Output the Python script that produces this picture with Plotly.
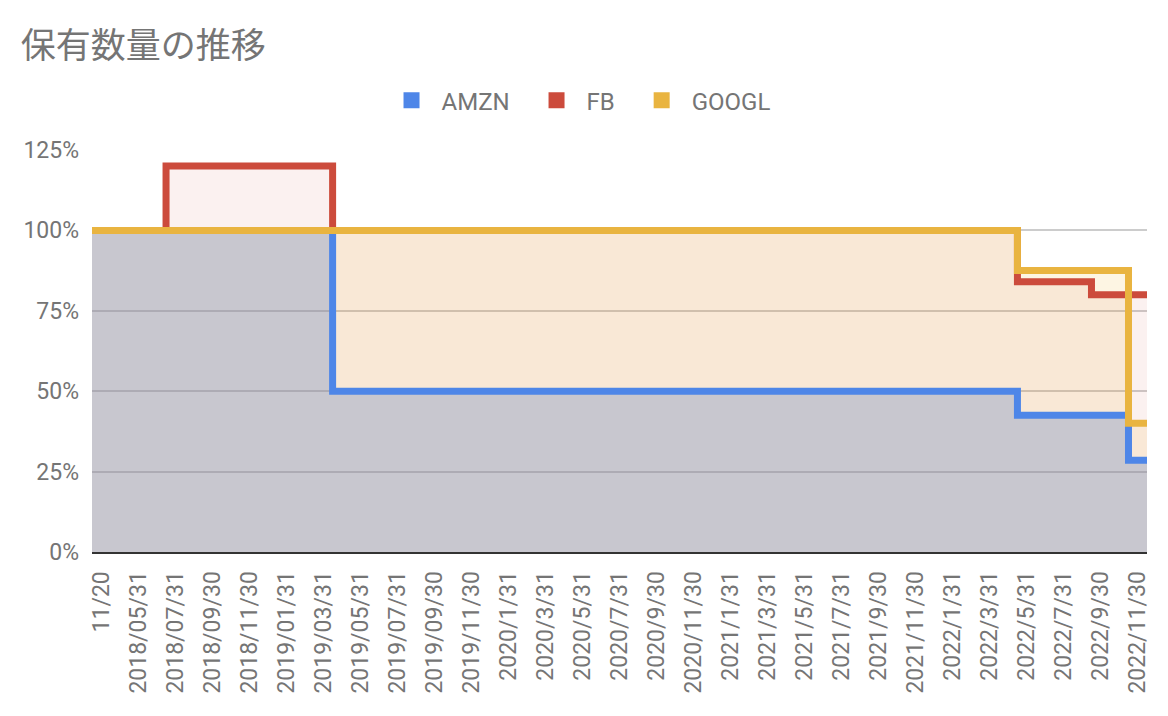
import numpy as np
import plotly.graph_objects as go

# month-end snapshots (first one is the purchase date)
categories = [
    "11/20", "2018/04/30", "2018/05/31", "2018/06/30", "2018/07/31", "2018/08/31",
    "2018/09/30", "2018/10/31", "2018/11/30", "2018/12/31", "2019/01/31", "2019/02/28",
    "2019/03/31", "2019/04/30", "2019/05/31", "2019/06/30", "2019/07/31", "2019/08/31",
    "2019/09/30", "2019/10/31", "2019/11/30", "2019/12/31", "2020/1/31", "2020/2/29",
    "2020/3/31", "2020/4/30", "2020/5/31", "2020/6/30", "2020/7/31", "2020/8/31",
    "2020/9/30", "2020/10/31", "2020/11/30", "2020/12/31", "2021/1/31", "2021/2/28",
    "2021/3/31", "2021/4/30", "2021/5/31", "2021/6/30", "2021/7/31", "2021/8/31",
    "2021/9/30", "2021/10/31", "2021/11/30", "2021/12/31", "2022/1/31", "2022/2/28",
    "2022/3/31", "2022/4/30", "2022/5/31", "2022/6/30", "2022/7/31", "2022/8/31",
    "2022/9/30", "2022/10/31", "2022/11/30",
]

amzn = [
    1.0, 1.0, 1.0, 1.0, 1.0, 1.0, 1.0, 1.0, 1.0, 1.0, 1.0, 1.0, 1.0,
    0.5, 0.5, 0.5, 0.5, 0.5, 0.5, 0.5, 0.5, 0.5, 0.5, 0.5, 0.5, 0.5,
    0.5, 0.5, 0.5, 0.5, 0.5, 0.5, 0.5, 0.5, 0.5, 0.5, 0.5, 0.5, 0.5,
    0.5, 0.5, 0.5, 0.5, 0.5, 0.5, 0.5, 0.5, 0.5, 0.5, 0.5,
    0.425, 0.425, 0.425, 0.425, 0.425, 0.425, 0.285,
]
fb = [
    1.0, 1.0, 1.0, 1.0, 1.2, 1.2, 1.2, 1.2, 1.2, 1.2, 1.2, 1.2, 1.2,
    1.0, 1.0, 1.0, 1.0, 1.0, 1.0, 1.0, 1.0, 1.0, 1.0, 1.0, 1.0, 1.0,
    1.0, 1.0, 1.0, 1.0, 1.0, 1.0, 1.0, 1.0, 1.0, 1.0, 1.0, 1.0, 1.0,
    1.0, 1.0, 1.0, 1.0, 1.0, 1.0, 1.0, 1.0, 1.0, 1.0, 1.0,
    0.84, 0.84, 0.84, 0.84, 0.80, 0.80, 0.80,
]
googl = [
    1.0, 1.0, 1.0, 1.0, 1.0, 1.0, 1.0, 1.0, 1.0, 1.0, 1.0, 1.0, 1.0,
    1.0, 1.0, 1.0, 1.0, 1.0, 1.0, 1.0, 1.0, 1.0, 1.0, 1.0, 1.0, 1.0,
    1.0, 1.0, 1.0, 1.0, 1.0, 1.0, 1.0, 1.0, 1.0, 1.0, 1.0, 1.0, 1.0,
    1.0, 1.0, 1.0, 1.0, 1.0, 1.0, 1.0, 1.0, 1.0, 1.0, 1.0,
    0.875, 0.875, 0.875, 0.875, 0.875, 0.875, 0.40,
]

names = ["AMZN", "FB", "GOOGL"]
line_colors = ["#4e86e8", "#cc4b3c", "#e9b440"]
fill_colors = ["rgba(78,134,232,0.34)", "rgba(204,75,60,0.08)", "rgba(240,180,40,0.13)"]
text_color = "#757575"
font_family = "Roboto, 'Noto Sans CJK JP', sans-serif"

# each category is a band, steps change on band edges
idx = np.arange(len(categories))
edges = np.append(idx - 0.5, idx[-1] + 0.5)


def steps(vals):
    return np.append(vals, vals[-1])


fig = go.Figure()
for name, vals, fc in zip(names, [amzn, fb, googl], fill_colors):
    fig.add_trace(go.Scatter(x=edges, y=steps(vals), mode="lines", line_shape="hv",
                             line_width=0, fill="tozeroy", fillcolor=fc,
                             showlegend=False, hoverinfo="skip"))
for name, vals, lc in zip(names, [amzn, fb, googl], line_colors):
    fig.add_trace(go.Scatter(x=edges, y=steps(vals), mode="lines", line_shape="hv",
                             line=dict(color=lc, width=7), name=name, showlegend=False))
# square legend keys (nbsp pads the gap between entries)
for name, lc in zip(names, line_colors):
    fig.add_trace(go.Scatter(x=[None], y=[None], mode="markers",
                             name=name + "\u00a0" * 2,
                             marker=dict(symbol="square", size=16, color=lc)))

# page body has an 8px margin, so the figure is 8px smaller and margins shifted
fig.update_layout(
    width=1160, height=708,
    paper_bgcolor="white", plot_bgcolor="white",
    margin=dict(l=84, r=21, t=142, b=164),
    font=dict(family=font_family, size=23, color=text_color),
    title=dict(text="保有数量の推移", x=0.011, xanchor="left", xref="container",
               y=0.947, yanchor="middle", yref="container",
               font=dict(size=35, color=text_color)),
    legend=dict(orientation="h", xref="container", x=0.497, xanchor="center",
                yref="container", y=0.869, yanchor="middle",
                font=dict(size=24, color=text_color), itemwidth=50),
    xaxis=dict(range=[-0.5, len(categories) - 0.5], tickvals=idx[::2],
               ticktext=categories[::2], tickangle=-90, showgrid=False,
               zeroline=False, showline=True, linecolor="#333333", linewidth=2,
               ticklabelstandoff=8, fixedrange=True),
    yaxis=dict(range=[0, 1.25], tickvals=[0, 0.25, 0.5, 0.75, 1.0, 1.25],
               tickformat=".0%", gridcolor="#cccccc", gridwidth=1.5,
               zeroline=False, ticklabelstandoff=12, fixedrange=True),
)

fig.write_html("out.html")
